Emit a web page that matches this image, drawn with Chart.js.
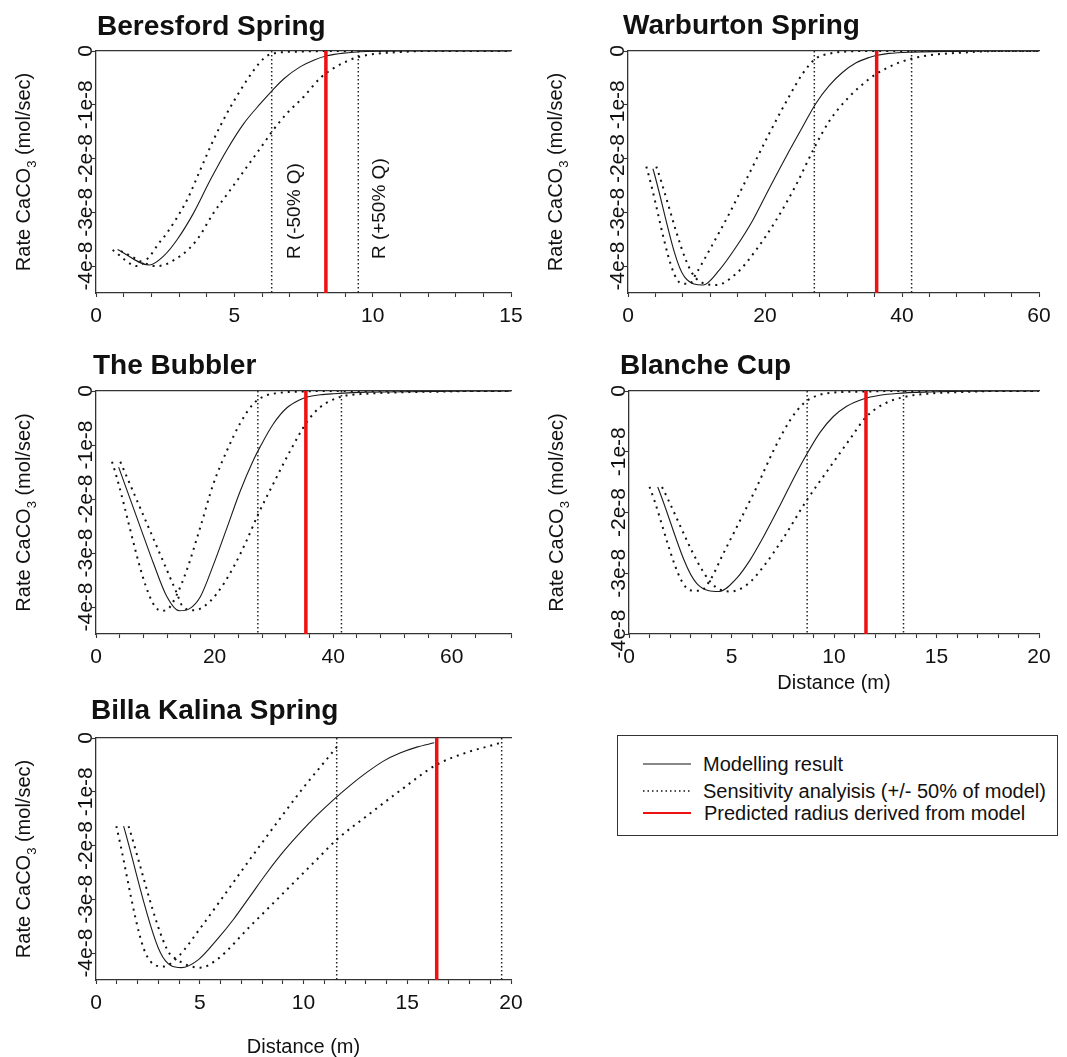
<!DOCTYPE html>
<html>
<head>
<meta charset="utf-8">
<script src="https://cdn.jsdelivr.net/npm/chart.js@4.4.1/dist/chart.umd.min.js"></script>
<style>
  html, body { margin: 0; padding: 0; background: #fff; overflow: hidden; }
  #page { position: relative; width: 1067px; height: 1057px; }
  #page canvas { position: absolute; }
  .legend { position: absolute; left: 617px; top: 735px; width: 439px; height: 99px;
            border: 1px solid #333; font-family: Arial, "Liberation Sans", sans-serif;
            font-size: 20px; color: #111; }
  .legend .row { position: absolute; left: 0; height: 24px; line-height: 24px; white-space: nowrap; }
  .legend svg { position: absolute; left: 25px; top: 10px; }
  .legend span { position: absolute; left: 85px; top: 0; }
</style>
</head>
<body>
<div id="page">
  <div class="legend">
    <div class="row" style="top:16px"><svg width="48" height="4"><line x1="0" y1="2" x2="48" y2="2" stroke="#111" stroke-width="1"/></svg><span>Modelling result</span></div>
    <div class="row" style="top:43px"><svg width="48" height="4"><line x1="0" y1="2" x2="48" y2="2" stroke="#111" stroke-width="1.5" stroke-dasharray="1.5,3"/></svg><span>Sensitivity analyisis (+/- 50% of model)</span></div>
    <div class="row" style="top:65px"><svg width="48" height="4"><line x1="0" y1="2" x2="48" y2="2" stroke="#ee1111" stroke-width="2"/></svg><span style="left:86px">Predicted radius derived from model</span></div>
  </div>
</div>
<script>
// rates are in units of 1e-8 mol/sec, distance in m
const beresfordModel = [[0.78,-3.69],[1.93,-3.98],[2.45,-3.81],[2.93,-3.51],[3.53,-3.01],[4.13,-2.40],[4.73,-1.84],[5.34,-1.35],[5.94,-0.98],[6.36,-0.74],[6.78,-0.52],[7.39,-0.29],[7.87,-0.17],[8.35,-0.09],[8.95,-0.04],[9.8,-0.01],[11,0],[15,0]];
const beresfordMinus = [[0.6,-3.70],[1.5,-4.0],[1.95,-3.81],[2.25,-3.59],[2.57,-3.38],[3.29,-2.77],[3.77,-2.21],[4.25,-1.65],[4.73,-1.16],[5.22,-0.73],[5.70,-0.36],[6.06,-0.14],[6.36,-0.05],[7.4,-0.01],[8.5,0],[15,0]];
const beresfordPlus = [[0.9,-3.72],[2.2,-4.0],[3.05,-3.81],[3.65,-3.51],[4.25,-3.01],[4.86,-2.58],[5.46,-2.15],[6.06,-1.72],[6.36,-1.50],[6.90,-1.16],[7.51,-0.85],[8.11,-0.50],[8.59,-0.32],[9.07,-0.19],[9.49,-0.11],[10.16,-0.05],[11,-0.02],[12,0],[15,0]];
const beresfordBounds = [6.35, 9.48];
const beresfordRadius = 8.31;

const warburtonModel = [[3.64,-2.19],[8.25,-4.20],[11.0,-4.35],[13.35,-4.07],[15.8,-3.64],[18.2,-3.15],[20.6,-2.56],[23.06,-1.97],[25.5,-1.41],[27.4,-0.98],[29.4,-0.64],[31.3,-0.40],[33.3,-0.22],[35.2,-0.12],[36.2,-0.085],[38.1,-0.045],[41.5,-0.02],[46.4,-0.01],[52,0],[60,0]];
const warburtonMinus = [[2.67,-2.15],[7.77,-4.32],[8.98,-4.33],[9.95,-4.14],[11.9,-3.70],[14.8,-3.02],[17.7,-2.28],[20.6,-1.54],[23.5,-0.85],[25.5,-0.42],[27.4,-0.14],[29.4,-0.05],[31.8,-0.01],[36,0],[60,0]];
const warburtonPlus = [[4.13,-2.15],[9.95,-4.23],[12.86,-4.35],[15.8,-4.14],[18.7,-3.70],[21.6,-3.15],[24.5,-2.50],[27.2,-1.80],[29.4,-1.30],[32.3,-0.85],[35.2,-0.52],[36.2,-0.43],[39.1,-0.24],[41.5,-0.14],[43.9,-0.08],[48.8,-0.03],[54,0],[60,0]];
const warburtonBounds = [27.2, 41.4];
const warburtonRadius = 36.3;

const bubblerModel = [[3.82,-1.41],[7.47,-2.52],[9.72,-3.20],[11.97,-3.81],[14.04,-4.07],[15.8,-4.03],[17.6,-3.81],[19.8,-3.22],[22.1,-2.53],[24.3,-1.86],[26.6,-1.27],[27.7,-1.03],[29.9,-0.61],[32.2,-0.31],[34.4,-0.16],[35.6,-0.11],[37.8,-0.07],[40.1,-0.05],[45.7,-0.02],[56.9,-0.01],[62,0],[70,0]];
const bubblerMinus = [[2.7,-1.31],[11.0,-4.07],[12.3,-4.02],[13.6,-3.78],[15.3,-3.32],[17.6,-2.52],[19.8,-1.72],[22.1,-1.10],[24.3,-0.60],[26.6,-0.23],[28.3,-0.10],[30.5,-0.04],[34.4,-0.01],[40,0],[70,0]];
const bubblerPlus = [[4.1,-1.31],[13.65,-3.75],[14.5,-3.97],[16.5,-4.06],[18.1,-4.0],[20.4,-3.75],[23.2,-3.26],[25.4,-2.77],[27.4,-2.27],[29.9,-1.72],[32.8,-1.10],[35.6,-0.57],[37.8,-0.30],[41.2,-0.11],[45.7,-0.05],[51.3,-0.025],[58.6,-0.01],[64,0],[70,0]];
const bubblerBounds = [27.3, 41.4];
const bubblerRadius = 35.4;

const blancheModel = [[1.40,-1.58],[3.31,-3.17],[4.40,-3.30],[5.26,-3.08],[5.91,-2.78],[6.56,-2.40],[7.37,-1.88],[8.18,-1.34],[8.67,-1.04],[9.32,-0.68],[9.97,-0.42],[10.62,-0.25],[11.43,-0.13],[12.24,-0.07],[13.05,-0.04],[14.7,-0.016],[16.3,-0.005],[18,0],[20,0]];
const blancheMinus = [[1.0,-1.58],[2.99,-3.28],[3.47,-3.29],[3.96,-3.11],[4.61,-2.67],[5.42,-2.13],[6.23,-1.58],[7.05,-0.98],[7.86,-0.48],[8.5,-0.21],[9.0,-0.10],[9.8,-0.03],[11.4,-0.01],[13,0],[20,0]];
const blanchePlus = [[1.61,-1.58],[3.96,-3.14],[4.94,-3.30],[5.75,-3.19],[6.56,-2.89],[7.53,-2.42],[8.67,-1.80],[9.81,-1.25],[10.78,-0.79],[11.56,-0.43],[12.4,-0.22],[13.4,-0.10],[14.7,-0.04],[16.3,-0.016],[18,0],[20,0]];
const blancheBounds = [8.69, 13.39];
const blancheRadius = 11.56;

const billaModel = [[1.33,-1.64],[3.10,-3.99],[4.11,-4.27],[4.94,-4.12],[5.83,-3.75],[6.63,-3.37],[7.43,-2.94],[8.23,-2.51],[9.04,-2.11],[9.84,-1.76],[10.64,-1.44],[11.44,-1.15],[12.25,-0.88],[13.05,-0.64],[13.85,-0.43],[14.65,-0.28],[15.46,-0.17],[16.3,-0.09]];
const billaMinus = [[0.98,-1.64],[2.46,-4.06],[3.26,-4.25],[4.0,-4.05],[5.0,-3.55],[6.0,-3.02],[7.0,-2.48],[8.0,-1.95],[9.0,-1.43],[10.0,-0.92],[11.0,-0.45],[11.6,-0.17]];
const billaPlus = [[1.57,-1.64],[3.42,-3.93],[3.9,-4.12],[5.02,-4.27],[5.83,-4.12],[7.43,-3.50],[9.04,-2.88],[10.64,-2.26],[11.6,-1.89],[13.05,-1.45],[14.65,-0.98],[16.4,-0.50],[17.86,-0.27],[19.47,-0.09],[19.6,-0.07]];
const billaBounds = [11.6, 19.55];
const billaRadius = 16.42;

// y tick labels (units of 1e-8)
const yTicks = [0, -1, -2, -3, -4];

// rotated labels in the first panel, anchored at their lower end
const beresfordNotes = [[7.19, -3.87, 'R (-50% Q)'], [10.26, -3.87, 'R (+50% Q)']];

const FONT = 'Arial, "Liberation Sans", sans-serif';
const INK = '#111';
const AXIS = '#333';
const LEFT = 96, TOP = 51, RIGHT = 26;

const panels = [
  { title: 'Beresford Spring', model: beresfordModel, minus: beresfordMinus, plus: beresfordPlus,
    bounds: beresfordBounds, radius: beresfordRadius, notes: beresfordNotes,
    xMax: 15, xStep: 1, xEvery: 5, yMin: -4.5, xTitle: false,
    box: { left: 96, top: 51, width: 415, height: 242, bottom: 45 }, titleDx: 1, titleDy: 16 },
  { title: 'Warburton Spring', model: warburtonModel, minus: warburtonMinus, plus: warburtonPlus,
    bounds: warburtonBounds, radius: warburtonRadius, notes: [],
    xMax: 60, xStep: 4, xEvery: 20, yMin: -4.5, xTitle: false,
    box: { left: 628, top: 51, width: 411, height: 242, bottom: 45 }, titleDx: -5, titleDy: 17 },
  { title: 'The Bubbler', model: bubblerModel, minus: bubblerMinus, plus: bubblerPlus,
    bounds: bubblerBounds, radius: bubblerRadius, notes: [],
    xMax: 70, xStep: 4, xEvery: 20, yMin: -4.5, xTitle: false,
    box: { left: 96, top: 391, width: 415, height: 243, bottom: 45 }, titleDx: -3, titleDy: 17 },
  { title: 'Blanche Cup', model: blancheModel, minus: blancheMinus, plus: blanchePlus,
    bounds: blancheBounds, radius: blancheRadius, notes: [],
    xMax: 20, xStep: 1, xEvery: 5, yMin: -4, xTitle: true, titlePad: 5,
    box: { left: 629, top: 391, width: 410, height: 243, bottom: 66 }, titleDx: -9, titleDy: 17 },
  { title: 'Billa Kalina Spring', model: billaModel, minus: billaMinus, plus: billaPlus,
    bounds: billaBounds, radius: billaRadius, notes: [],
    xMax: 20, xStep: 1, xEvery: 5, yMin: -4.5, xTitle: true, titlePad: 0,
    box: { left: 96, top: 738, width: 415, height: 242, bottom: 79 }, titleDx: -5, titleDy: 19 }
];

const pts = arr => arr.map(([x, y]) => ({ x, y }));

function decorPlugin(p) {
  return {
    id: 'decor',
    afterDraw(chart) {
      const { ctx, chartArea: a, scales } = chart;
      ctx.save();
      ctx.fillStyle = INK;
      ctx.font = 'bold 28px ' + FONT;
      ctx.textAlign = 'left';
      ctx.textBaseline = 'alphabetic';
      ctx.fillText(p.title, a.left + p.titleDx, a.top - p.titleDy);

      // y axis title with subscript
      ctx.save();
      ctx.translate(a.left - 72, (a.top + a.bottom) / 2);
      ctx.rotate(-Math.PI / 2);
      const big = '20px ' + FONT, small = '13px ' + FONT;
      ctx.font = big;
      const w1 = ctx.measureText('Rate CaCO').width;
      const w3 = ctx.measureText(' (mol/sec)').width;
      ctx.font = small;
      const w2 = ctx.measureText('3').width;
      let x = -(w1 + w2 + w3) / 2;
      ctx.textBaseline = 'middle';
      ctx.font = big; ctx.fillText('Rate CaCO', x, 0); x += w1;
      ctx.font = small; ctx.fillText('3', x, 8); x += w2;
      ctx.font = big; ctx.fillText(' (mol/sec)', x, 0);
      ctx.restore();

      p.notes.forEach(([nx, ny, text]) => {
        ctx.save();
        ctx.translate(scales.x.getPixelForValue(nx), scales.y.getPixelForValue(ny));
        ctx.rotate(-Math.PI / 2);
        ctx.font = '19px ' + FONT;
        ctx.textAlign = 'left';
        ctx.textBaseline = 'middle';
        ctx.fillText(text, 0, 0);
        ctx.restore();
      });
      ctx.restore();
    }
  };
}

const page = document.getElementById('page');

panels.forEach(p => {
  const b = p.box;
  const cv = document.createElement('canvas');
  const W = b.width + LEFT + RIGHT;
  const H = b.height + TOP + b.bottom;
  cv.width = W; cv.height = H;
  cv.style.left = (b.left - LEFT) + 'px';
  cv.style.top = (b.top - TOP) + 'px';
  cv.style.width = W + 'px'; cv.style.height = H + 'px';
  page.appendChild(cv);

  const dotted = { borderColor: INK, borderWidth: 2, borderDash: [2, 5], pointRadius: 0,
                   cubicInterpolationMode: 'monotone', fill: false, order: 2 };
  const vline = v => ({ data: [{ x: v, y: 0 }, { x: v, y: p.yMin }], borderColor: '#222',
                        borderWidth: 1.5, borderDash: [1.5, 2.5], pointRadius: 0, order: 3 });

  const datasets = [
    { data: [{ x: p.radius, y: 0 }, { x: p.radius, y: p.yMin }], borderColor: '#ee1111',
      borderWidth: 3.5, pointRadius: 0, order: 0 },
    { data: pts(p.model), borderColor: '#1a1a1a', borderWidth: 1.1, pointRadius: 0,
      cubicInterpolationMode: 'monotone', fill: false, order: 1 },
    Object.assign({ data: pts(p.minus) }, dotted),
    Object.assign({ data: pts(p.plus) }, dotted),
    vline(p.bounds[0]),
    vline(p.bounds[1])
  ];

  const tickFont = { family: FONT, size: 21 };

  new Chart(cv, {
    type: 'line',
    data: { datasets },
    options: {
      responsive: false,
      animation: false,
      events: [],
      layout: { padding: { left: 0, top: TOP, right: RIGHT, bottom: 0 } },
      plugins: { legend: { display: false }, tooltip: { enabled: false } },
      scales: {
        x: {
          type: 'linear', position: 'bottom', min: 0, max: p.xMax,
          afterFit: s => { s.height = b.bottom; },
          border: { color: AXIS, width: 1.3 },
          grid: { drawOnChartArea: false, color: AXIS, tickColor: AXIS, tickLength: 4, tickWidth: 1.1 },
          ticks: { stepSize: p.xStep, autoSkip: false, minRotation: 0, maxRotation: 0, padding: 7,
                   color: INK, font: tickFont,
                   callback: v => (v % p.xEvery === 0 ? String(v) : '') },
          title: { display: p.xTitle, text: 'Distance (m)', color: INK,
                   font: { family: FONT, size: 20 }, padding: { top: 0, bottom: p.titlePad || 0 } }
        },
        x2: {
          type: 'linear', position: 'top', min: 0, max: p.xMax,
          afterFit: s => { s.height = 0; },
          border: { color: AXIS, width: 1.3 },
          grid: { display: false },
          ticks: { display: false }
        },
        y: {
          type: 'linear', position: 'left', min: p.yMin, max: 0,
          afterBuildTicks: s => { s.ticks = yTicks.map(v => ({ value: v })); },
          afterFit: s => { s.width = LEFT; },
          border: { color: AXIS, width: 1.3 },
          grid: { drawOnChartArea: false, color: AXIS, tickColor: AXIS, tickLength: 4, tickWidth: 1.1 },
          ticks: { autoSkip: false, minRotation: 90, maxRotation: 90,
                   crossAlign: 'center', padding: -18.5, color: INK, font: tickFont,
                   callback: v => (v === 0 ? '0' : v + 'e-8') }
        }
      }
    },
    plugins: [decorPlugin(p)]
  });
});
</script>
</body>
</html>
